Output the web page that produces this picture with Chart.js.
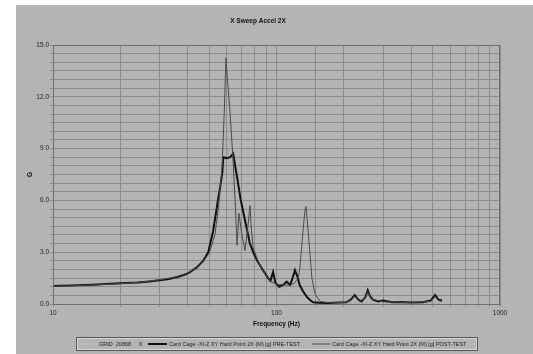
<!DOCTYPE html>
<html>
<head>
<meta charset="utf-8">
<script src="https://cdn.jsdelivr.net/npm/chart.js@4.4.1/dist/chart.umd.min.js"></script>
<style>
  html, body { margin: 0; padding: 0; background: #fff; }
  #wrap { position: absolute; left: 16px; top: 5px; width: 517px; height: 349px; background: #b4b4b4; }
</style>
</head>
<body>
<div id="wrap"><canvas id="sweep" width="517" height="349"></canvas></div>
<script>
// GRID 20868 X (dotted reference curve)
const freqGrid = [10, 15, 20, 25, 30, 35, 40, 44, 47, 50, 53, 55, 57, 59, 60.5, 62, 64, 66, 68, 70.8, 75, 80, 84, 93, 100, 107, 113, 118, 125, 137, 145, 160, 200, 300, 550];
const gGrid = [1.02, 1.1, 1.18, 1.28, 1.4, 1.56, 1.78, 2.1, 2.5, 3.0, 4.0, 5.2, 6.8, 8.3, 9.0, 8.0, 6.5, 5.2, 4.2, 3.1, 2.5, 2.0, 1.5, 1.25, 1.1, 1.0, 0.7, 0.42, 0.38, 0.35, 0.25, 0.12, 0.06, 0.05, 0.05];

// PRE-TEST
const freqPre = [10, 12, 15, 18, 21, 24, 27, 30, 33, 36, 39, 41, 44, 47, 49.5, 52, 54.7, 56, 57.2, 57.8, 60, 62, 64, 65.5, 67.3, 69, 70.8, 73.8, 76, 79, 82, 87, 91.7, 94, 96.5, 99, 103, 107, 111, 115, 118, 121, 124, 127, 132, 137, 142, 146, 155, 170, 190, 205, 215, 224, 232, 240, 250, 256, 262, 270, 285, 300, 330, 360, 400, 450, 490, 512, 530, 550];
const gPre = [1.04, 1.07, 1.12, 1.17, 1.21, 1.25, 1.3, 1.37, 1.45, 1.56, 1.7, 1.85, 2.12, 2.5, 3.0, 4.2, 6.0, 6.8, 7.6, 8.5, 8.45, 8.5, 8.7, 7.9, 7.0, 6.1, 5.4, 4.3, 3.5, 2.95, 2.5, 1.95, 1.5, 1.35, 1.85, 1.2, 1.0, 1.1, 1.3, 1.1, 1.5, 1.95, 1.6, 1.1, 0.7, 0.4, 0.2, 0.1, 0.07, 0.06, 0.08, 0.1, 0.25, 0.52, 0.25, 0.15, 0.4, 0.8, 0.45, 0.25, 0.15, 0.2, 0.1, 0.12, 0.08, 0.1, 0.2, 0.52, 0.25, 0.2];

// POST-TEST
const freqPost = [10, 15, 20, 25, 30, 35, 40, 44, 47, 50, 53, 55, 57, 58.5, 59.4, 60.5, 61.8, 63.8, 65.3, 66.6, 67.9, 70, 72.3, 74.5, 76.1, 77, 78.5, 82, 86, 90.6, 95, 100, 107, 115, 120, 125, 127, 129, 131.6, 134, 135.5, 137, 139, 141, 144, 148.6, 156.7, 170, 200, 215, 224, 235, 250, 256, 265, 300, 400, 490, 512, 530, 550];
const gPost = [1.02, 1.1, 1.18, 1.28, 1.4, 1.55, 1.8, 2.1, 2.45, 2.95, 4.0, 5.6, 7.8, 11.4, 14.25, 12.8, 11.3, 8.5, 6.0, 3.4, 5.25, 4.0, 3.1, 4.5, 5.7, 4.5, 3.3, 2.6, 2.0, 1.56, 1.3, 1.15, 1.1, 1.1, 1.2, 1.5, 2.0, 3.0, 4.3, 5.4, 5.65, 5.0, 4.0, 3.0, 1.5, 0.6, 0.15, 0.08, 0.08, 0.2, 0.45, 0.15, 0.35, 0.7, 0.3, 0.12, 0.1, 0.15, 0.45, 0.2, 0.15];

const yMajor = [0, 3, 6, 9, 12, 15];
const xMajor = [10, 100, 1000];

const pts = (fs, gs) => fs.map((f, i) => ({ x: f, y: gs[i] }));

const FONT = '"Liberation Sans", Arial, sans-serif';

const frame = {
    id: 'frame',
    afterDraw(chart) {
        const { ctx, chartArea: a } = chart;
        ctx.save();
        ctx.strokeStyle = '#6e6e6e';
        ctx.lineWidth = 1;
        ctx.strokeRect(a.left + 0.5, a.top + 0.5, a.right - a.left - 1, a.bottom - a.top);

        // legend
        ctx.strokeStyle = '#555';
        ctx.strokeRect(60.5, 332.5, 401, 13);
        ctx.strokeStyle = '#d8d8d8';
        ctx.strokeRect(61.5, 333.5, 399, 11);
        const cy = 339;
        const items = [
            { s: 64, e: 81, t: 83, text: 'GRID  20868     X', color: '#d0d0d0', w: 1, dash: [2, 1] },
            { s: 132, e: 151, t: 153, text: 'Card Cage -XI-Z XY Hard Point 2X (M) [g] PRE-TEST', color: '#111', w: 2, dash: [] },
            { s: 296, e: 314, t: 316, text: 'Card Cage -XI-Z XY Hard Point 2X (M) [g] POST-TEST', color: '#4a4a4a', w: 1, dash: [] }
        ];
        ctx.font = '5.5px ' + FONT;
        ctx.textBaseline = 'middle';
        ctx.fillStyle = '#222';
        items.forEach(it => {
            ctx.beginPath();
            ctx.setLineDash(it.dash);
            ctx.strokeStyle = it.color;
            ctx.lineWidth = it.w;
            ctx.moveTo(it.s, cy);
            ctx.lineTo(it.e, cy);
            ctx.stroke();
            ctx.setLineDash([]);
            ctx.fillText(it.text, it.t, cy);
        });
        ctx.restore();
    }
};

new Chart(document.getElementById('sweep'), {
    type: 'line',
    data: {
        datasets: [
            {
                label: 'Card Cage -XI-Z XY Hard Point 2X (M) [g] POST-TEST',
                data: pts(freqPost, gPost),
                borderColor: '#4a4a4a',
                borderWidth: 1,
                order: 1
            },
            {
                label: 'Card Cage -XI-Z XY Hard Point 2X (M) [g] PRE-TEST',
                data: pts(freqPre, gPre),
                borderColor: '#111',
                borderWidth: 2,
                order: 2
            },
            {
                label: 'GRID  20868     X',
                data: pts(freqGrid, gGrid),
                borderColor: '#a0a0a0',
                borderWidth: 1,
                borderDash: [2, 2],
                order: 3
            }
        ]
    },
    options: {
        responsive: false,
        animation: false,
        parsing: false,
        elements: { point: { radius: 0 }, line: { tension: 0 } },
        layout: { padding: { left: 0, top: 0, right: 33, bottom: 20 } },
        plugins: {
            legend: { display: false },
            tooltip: { enabled: false },
            title: {
                display: true,
                text: 'X Sweep Accel 2X',
                color: '#111',
                font: { family: FONT, size: 6.5, weight: 'bold' },
                padding: { top: 12, bottom: 20.2 }
            }
        },
        scales: {
            x: {
                type: 'logarithmic',
                min: 10,
                max: 1000,
                afterFit: s => { s.height = 30; },
                border: { display: true, color: '#6e6e6e' },
                grid: { color: '#8c8c8c', tickLength: 3 },
                ticks: {
                    autoSkip: false,
                    maxRotation: 0,
                    padding: 2,
                    color: '#222',
                    font: { family: FONT, size: 6.5 },
                    callback: v => xMajor.includes(Math.round(v)) && Math.abs(v - Math.round(v)) < 1e-6 ? String(Math.round(v)) : ''
                },
                title: {
                    display: true,
                    text: 'Frequency (Hz)',
                    color: '#111',
                    font: { family: FONT, size: 6.5, weight: 'bold' },
                    padding: { top: 0, bottom: 6 }
                }
            },
            y: {
                min: 0,
                max: 15,
                afterFit: s => { s.width = 37; },
                border: { display: true, color: '#6e6e6e' },
                grid: { color: '#8c8c8c', tickLength: 3 },
                ticks: {
                    stepSize: 0.5,
                    autoSkip: false,
                    padding: 1,
                    color: '#222',
                    font: { family: FONT, size: 6.5 },
                    callback: v => yMajor.some(m => Math.abs(m - v) < 1e-6) ? v.toFixed(1) : ''
                },
                title: {
                    display: true,
                    text: 'G',
                    color: '#111',
                    font: { family: FONT, size: 6.5, weight: 'bold' },
                    padding: { top: 10, bottom: 0 }
                }
            }
        }
    },
    plugins: [frame]
});
</script>
</body>
</html>
